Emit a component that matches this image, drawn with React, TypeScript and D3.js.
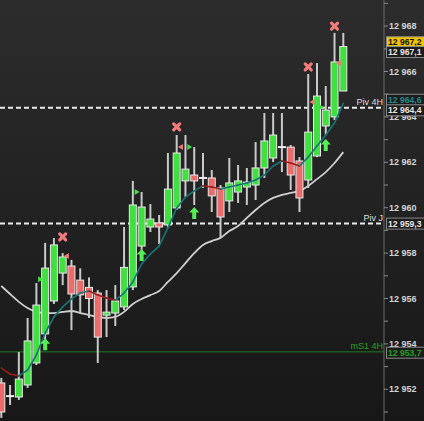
import * as d3 from 'd3';

const W = 424;
const H = 421;
const AXIS_X = 384;

// OHLC, one entry per bar (oldest first)
const OPEN = [
  12952.28, 12951.7, 12951.66, 12952.19, 12953.16, 12954.44, 12955.89, 12957.12, 12957.43, 12956.81,
  12956.49, 12956.24, 12955.27, 12955.36, 12955.63, 12956.51, 12958.31, 12959.15, 12959.33, 12959.24,
  12959.99, 12961.18, 12961.44, 12961.31, 12961.31, 12960.87, 12960.3, 12960.69, 12960.91, 12961.0,
  12961.75, 12962.19, 12962.67, 12962.67, 12962.06, 12961.22, 12962.28, 12963.6, 12964.0, 12965.14,
];
const HIGH = [
  12952.5, 12952.19, 12953.64, 12955.14, 12956.68, 12958.45, 12958.66, 12958.0, 12957.7, 12957.33,
  12956.93, 12956.37, 12956.37, 12956.59, 12959.15, 12961.18, 12960.69, 12960.16, 12959.68, 12962.41,
  12963.2, 12963.2, 12962.67, 12962.41, 12961.66, 12961.0, 12962.19, 12961.88, 12961.75, 12962.89,
  12964.17, 12964.17, 12964.17, 12962.76, 12962.23, 12965.89, 12966.37, 12965.36, 12967.7, 12967.7,
];
const LOW = [
  12950.74, 12951.31, 12951.53, 12952.06, 12953.07, 12954.17, 12955.76, 12956.59, 12954.61, 12955.36,
  12955.14, 12953.16, 12954.3, 12954.79, 12955.49, 12956.37, 12958.14, 12958.93, 12958.4, 12959.11,
  12959.9, 12960.47, 12960.12, 12960.87, 12959.81, 12958.67, 12959.81, 12960.21, 12960.12, 12960.34,
  12961.31, 12962.01, 12961.57, 12960.78, 12959.81, 12960.87, 12962.23, 12963.2, 12963.86, 12965.14,
];
const CLOSE = [
  12951.0, 12951.7, 12952.45, 12954.13, 12955.71, 12957.34, 12958.36, 12957.83, 12956.2, 12956.16,
  12956.0, 12954.3, 12955.4, 12955.89, 12957.37, 12960.12, 12960.03, 12959.5, 12959.15, 12960.82,
  12962.41, 12961.7, 12961.18, 12961.31, 12960.52, 12959.59, 12961.09, 12961.18, 12961.13, 12961.75,
  12962.94, 12963.2, 12962.67, 12961.44, 12960.43, 12963.33, 12964.92, 12964.3, 12966.42, 12967.1,
];

// moving averages
const MA_FAST = [
  12952.94, 12952.67, 12952.59, 12952.85, 12953.51, 12954.48, 12955.19, 12955.63, 12955.98, 12956.24,
  12956.33, 12956.15, 12956.02, 12955.93, 12956.24, 12956.73, 12957.52, 12957.96, 12958.31, 12959.11,
  12959.99, 12960.47, 12960.74, 12960.96, 12960.91, 12960.82, 12960.91, 12961.0, 12961.09, 12961.22,
  12961.44, 12961.84, 12962.06, 12961.97, 12961.84, 12962.23, 12962.72, 12963.2, 12963.73, 12964.6,
];
const MA_SLOW = [
  12956.55, 12956.2, 12955.85, 12955.58, 12955.41, 12955.36, 12955.36, 12955.41, 12955.45, 12955.36,
  12955.27, 12955.19, 12955.14, 12955.19, 12955.41, 12955.76, 12955.98, 12956.15, 12956.33, 12956.73,
  12957.12, 12957.56, 12958.0, 12958.36, 12958.53, 12958.67, 12958.97, 12959.19, 12959.55, 12959.9,
  12960.21, 12960.43, 12960.56, 12960.65, 12960.74, 12960.96, 12961.26, 12961.57, 12961.97, 12962.45,
];

// signal markers: bar index + price
const X_MARKS = [
  { i: 7, price: 12958.71 },
  { i: 20, price: 12963.56 },
  { i: 35, price: 12966.2 },
  { i: 38, price: 12968.0 },
];
const UP_ARROWS = [
  { i: 5, price: 12953.98 },
  { i: 16, price: 12957.92 },
  { i: 22, price: 12959.77 },
  { i: 37, price: 12962.76 },
];
const RED_TRIS = [
  { i: 8, price: 12957.87 },
  { i: 21, price: 12962.67 },
  { i: 36, price: 12964.66 },
  { i: 39, price: 12966.37 },
];
const GREEN_TRIS = [
  { i: 5, price: 12956.85 },
  { i: 16, price: 12960.69 },
  { i: 22, price: 12962.67 },
  { i: 37, price: 12964.44 },
];

const LEVELS = [
  { name: 'Piv 4H', price: 12964.4, dashed: true },
  { name: 'Piv J', price: 12959.3, dashed: true },
  { name: 'mS1 4H', price: 12953.65, dashed: false },
];

const TAGS = [
  { value: 12967.2, bg: '#f2c400', fg: '#111', nudge: -2 },
  { value: 12967.1, bg: '#1c1c1c', fg: '#e6e6e6', nudge: 5.5 },
  { value: 12964.6, bg: '#1c1c1c', fg: '#1f8a8a', nudge: -3.5 },
  { value: 12964.4, bg: '#1c1c1c', fg: '#e6e6e6', nudge: 2.5 },
  { value: 12959.3, bg: '#1c1c1c', fg: '#e6e6e6', nudge: 0 },
  { value: 12953.7, bg: '#1c1c1c', fg: '#22a022', nudge: 2 },
];

const loc = d3.formatLocale({ decimal: ',', thousands: ' ', grouping: [3], currency: ['', ''] });
const fmtInt = loc.format(',');
const fmtDec = loc.format(',.1f');

const FONT = '"Liberation Sans", Arial, sans-serif';

export default function App() {
  const x = d3.scaleLinear().domain([0, OPEN.length - 1]).range([1.3, 343.3]);
  const y = d3.scaleLinear().domain([12952, 12968]).range([389.3, 26.1]);

  const [lo, hi] = y.invert(H - 6) < y.invert(6) ? [y.invert(H - 6), y.invert(6)] : [y.invert(6), y.invert(H - 6)];
  const minor = d3.range(Math.ceil(y.invert(H)), Math.floor(y.invert(0)) + 1, 1);
  const major = minor.filter((v) => v % 2 === 0 && v > lo && v < hi);

  const slowLine = d3
    .line<number>()
    .x((_, i) => x(i))
    .y((d) => y(d))
    .curve(d3.curveMonotoneX)(MA_SLOW)!;

  const bars = OPEN.map((o, i) => ({ o, h: HIGH[i], l: LOW[i], c: CLOSE[i], i }));

  return (
    <div style={{ position: 'fixed', left: 0, top: 0 }}>
      <svg width={W} height={H} style={{ display: 'block' }}>
        <defs>
          <linearGradient id="bg" x1="0" y1="0" x2="0" y2="1">
            <stop offset="0" stopColor="#2c2c2c" />
            <stop offset="1" stopColor="#171717" />
          </linearGradient>
          <clipPath id="plot">
            <rect x={0} y={0} width={AXIS_X} height={H} />
          </clipPath>
        </defs>
        <rect width={W} height={H} fill="url(#bg)" />

        <g clipPath="url(#plot)">
          {/* pivot levels */}
          {LEVELS.map((lv) => (
            <line
              key={lv.name}
              x1={0}
              x2={AXIS_X}
              y1={y(lv.price)}
              y2={y(lv.price)}
              stroke={lv.dashed ? '#ececec' : '#1e7a1e'}
              strokeWidth={lv.dashed ? 2 : 1}
              strokeDasharray={lv.dashed ? '5,3' : undefined}
            />
          ))}

          {/* slow MA */}
          <path d={slowLine} fill="none" stroke="#cfcfcf" strokeWidth={1.8} />

          {/* wicks */}
          {bars.map((b) => (
            <line
              key={'w' + b.i}
              x1={x(b.i)}
              x2={x(b.i)}
              y1={y(b.h)}
              y2={y(b.l)}
              stroke="#c9c9c9"
              strokeWidth={2}
            />
          ))}

          {/* bodies */}
          {bars.map((b) => {
            const cx = x(b.i);
            if (b.o === b.c) {
              return (
                <line key={'b' + b.i} x1={cx - 4} x2={cx + 4} y1={y(b.o)} y2={y(b.o)} stroke="#eeeeee" strokeWidth={2} />
              );
            }
            const top = y(Math.max(b.o, b.c));
            const bot = y(Math.min(b.o, b.c));
            return (
              <rect
                key={'b' + b.i}
                x={cx - 3.5}
                y={top}
                width={7}
                height={Math.max(bot - top, 2.5)}
                fill={b.c > b.o ? '#3fe03f' : '#ec6c6c'}
                stroke="#e9e9e9"
                strokeWidth={1}
              />
            );
          })}

          {/* fast MA, teal when rising, dark red when falling */}
          {MA_FAST.slice(1).map((v, k) => {
            const i = k + 1;
            const prev = MA_FAST[i - 1];
            return (
              <line
                key={'f' + i}
                x1={x(i - 1)}
                x2={x(i)}
                y1={y(prev)}
                y2={y(v)}
                stroke={v >= prev ? '#177676' : '#9c1c1c'}
                strokeWidth={1.6}
                strokeLinecap="round"
              />
            );
          })}

          {/* markers */}
          {X_MARKS.map((m) => {
            const cx = x(m.i);
            const cy = y(m.price);
            return (
              <path
                key={'x' + m.i}
                d={`M${cx - 3},${cy - 3}L${cx + 3},${cy + 3}M${cx + 3},${cy - 3}L${cx - 3},${cy + 3}`}
                stroke="#f27c7c"
                strokeWidth={3.2}
                strokeLinecap="round"
              />
            );
          })}
          {UP_ARROWS.map((m) => {
            const cx = x(m.i);
            const cy = y(m.price);
            return (
              <path
                key={'a' + m.i}
                d={`M${cx - 5},${cy - 0.5}L${cx},${cy - 6}L${cx + 5},${cy - 0.5}L${cx + 2},${cy - 0.5}L${cx + 2},${cy + 6}L${cx - 2},${cy + 6}L${cx - 2},${cy - 0.5}Z`}
                fill="#55ee55"
              />
            );
          })}
          {RED_TRIS.map((m) => {
            const cx = x(m.i) - 5;
            const cy = y(m.price);
            return <path key={'r' + m.i} d={`M${cx + 2.5},${cy - 3}L${cx + 2.5},${cy + 3}L${cx - 2.5},${cy}Z`} fill="#f07a7a" />;
          })}
          {GREEN_TRIS.map((m) => {
            const cx = x(m.i) - 4.5;
            const cy = y(m.price);
            return <path key={'g' + m.i} d={`M${cx - 2.5},${cy - 3}L${cx - 2.5},${cy + 3}L${cx + 2.5},${cy}Z`} fill="#44dd44" />;
          })}

          {/* level names */}
          {LEVELS.map((lv) => (
            <text
              key={'t' + lv.name}
              x={AXIS_X - 1}
              y={y(lv.price) - 3}
              textAnchor="end"
              fontFamily={FONT}
              fontSize={9}
              fill={lv.dashed ? '#dedede' : '#23a323'}
            >
              {lv.name}
            </text>
          ))}
        </g>

        {/* right price axis */}
        <line x1={AXIS_X} x2={AXIS_X} y1={0} y2={H} stroke="#6a6a6a" strokeWidth={1} />
        {minor.map((v) => (
          <line key={'m' + v} x1={AXIS_X} x2={AXIS_X + 4} y1={y(v)} y2={y(v)} stroke="#8a8a8a" strokeWidth={1} />
        ))}
        {major.map((v) => (
          <text
            key={'l' + v}
            x={AXIS_X + 5}
            y={y(v)}
            dy="0.35em"
            fontFamily={FONT}
            fontSize={9}
            fontWeight="bold"
            fill="#d4d4d4"
          >
            {fmtInt(v)}
          </text>
        ))}

        {/* price tags */}
        {TAGS.map((t) => {
          const cy = y(t.value) + t.nudge;
          return (
            <g key={'tag' + t.value}>
              <rect x={AXIS_X + 2.5} y={cy - 5.5} width={W - AXIS_X} height={11} fill={t.bg} stroke="#8a8a8a" strokeWidth={1} />
              <text
                x={AXIS_X + 4}
                y={cy}
                dy="0.35em"
                fontFamily={FONT}
                fontSize={8.6}
                fontWeight="bold"
                fill={t.fg}
              >
                {fmtDec(t.value)}
              </text>
            </g>
          );
        })}
      </svg>
    </div>
  );
}
